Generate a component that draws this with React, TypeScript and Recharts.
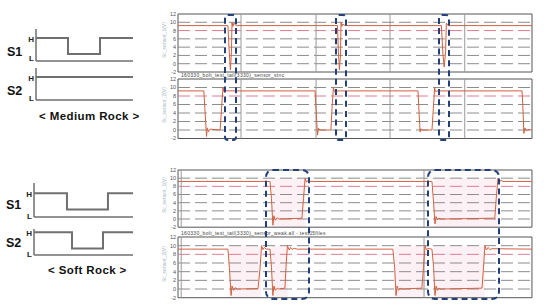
import React from "react";
import { LineChart, Line, XAxis, YAxis, ReferenceLine, ReferenceArea } from "recharts";

// schematic H/L drive patterns (time 0..10, 1 = H, 0 = L)
const MED_S1_T = [0, 3.3, 6.6, 10];
const MED_S1_V = [1, 0, 1, 1];
const MED_S2_T = [0, 10];
const MED_S2_V = [1, 1];
const SOFT_S1_T = [0, 3.33, 7.47, 10];
const SOFT_S1_V = [1, 0, 1, 1];
const SOFT_S2_T = [0, 3.84, 6.97, 10];
const SOFT_S2_V = [1, 0, 1, 1];

// scope traces (time 0..100, volts)
const P1_T = [0, 14.1, 14.4, 14.8, 15.1, 15.25, 15.5, 15.8, 16.4, 45.05, 45.3, 45.6, 45.9, 46.05, 46.3, 46.6, 47.2, 74.4, 74.86, 75.2, 75.6, 75.8, 76.3, 100];
const P1_V = [9.2, 9.2, 4, -1.5, 3, 10, 9.0, 9.8, 9.2, 9.2, 3, -1.5, 2, 10, 9.0, 9.6, 9.2, 9.2, 2, -0.8, 3, 9.8, 9.2, 9.2];

const P2_T = [0, 7.3, 7.6, 8.05, 8.3, 8.6, 9.0, 11.9, 12.3, 12.7, 13.0, 13.4, 13.8, 38.7, 39.0, 39.4, 39.7, 40.1, 43.2, 43.5, 43.9, 44.2, 44.6, 67.8, 68.1, 68.4, 68.6, 68.9, 71.75, 72.2, 72.5, 72.7, 73.2, 97.2, 97.5, 97.7, 98.0, 98.4, 98.9, 100];
const P2_V = [9.2, 9.2, 5, -1.5, 0.5, -0.4, 0.2, 0, 5, 10, 9.0, 9.5, 9.2, 9.2, 5, -1.2, 0.4, 0, 0, 5, 10, 9.0, 9.2, 9.2, 4, -0.5, 0.3, 0, 0, 6, 10, 9.0, 9.2, 9.2, 4, -0.8, 0.5, -0.2, 0.1, 0];

const P3_T = [0, 26, 26.4, 26.8, 27.1, 27.5, 28.0, 28.5, 35.0, 35.45, 35.9, 36.3, 36.7, 37.3, 71.75, 72.2, 72.6, 72.9, 73.3, 73.7, 74.3, 89.5, 89.9, 90.4, 90.8, 91.2, 91.8, 100];
const P3_V = [9.2, 9.2, 5, -1.5, 0.8, -0.3, 0.3, 0, 0.2, 5, 10, 9.0, 9.5, 9.2, 9.2, 4, -1.2, 0.6, -0.2, 0.2, 0, 0.2, 5, 10, 9.0, 9.5, 9.2, 9.2];

const P4_T = [0, 14.1, 14.5, 15.0, 15.25, 15.7, 16.1, 16.7, 22.6, 23.2, 23.6, 24.0, 24.4, 24.9, 26.0, 26.4, 26.8, 27.1, 27.5, 28.0, 28.5, 30.2, 30.5, 30.9, 31.4, 31.8, 32.2, 32.8, 33.6, 60.7, 61.2, 61.6, 61.9, 62.3, 62.7, 63.3, 68.9, 69.35, 69.8, 70.2, 70.6, 71.5, 71.75, 72.2, 72.6, 72.9, 73.3, 73.7, 74.3, 85.9, 86.3, 86.7, 87.1, 87.6, 88.1, 88.7, 100];
const P4_V = [9.2, 9.2, 5, -1.5, 0.7, -0.3, 0.3, 0, 0.1, 5, 10, 9.1, 9.6, 9.2, 9.2, 5, -1.5, 0.7, -0.3, 0.2, 0, 0.2, 5, 10, 9.0, 9.6, 9.1, 9.4, 9.2, 9.2, 5, -1.5, 0.7, -0.3, 0.2, 0, 0.2, 5, 10, 9.0, 9.4, 9.2, 9.2, 5, -1.5, 0.7, -0.3, 0.2, 0, 0.2, 5, 10, 9.0, 9.6, 9.1, 9.3, 9.2];

const Y_TICKS = [-2, 0, 2, 4, 6, 8, 10, 12];
const GRAY_LEVELS = [0, 2, 4, 6, 10];
const TOP_VLINES = [17.8, 39, 59.9, 81];
const BOT_VLINES = [0.9, 69.5];
const P3_SHADE = [[26.5, 36], [72.3, 90.5]];
const P4_SHADE = [[14.5, 23.5], [26.5, 31], [61.2, 69.8], [72.3, 86.7]];

const zip = (t: number[], v: number[]) => t.map((x, i) => ({ t: x, v: v[i] }));

const TRACE = "#d2603f";
const BOX = "#23407c";

function Schematic({ left, top, width, height, t, v, domain, hTick, lTick }: any) {
  return (
    <div style={{ position: "absolute", left: left - 14, top: top - 5 }}>
      <LineChart width={width + 14} height={height + 10} data={zip(t, v)} margin={{ top: 5, right: 0, bottom: 5, left: 0 }}>
        <XAxis type="number" dataKey="t" domain={[0, 10]} hide />
        <YAxis
          type="number"
          domain={domain}
          width={14}
          ticks={[lTick, hTick]}
          interval={0}
          tickFormatter={(x: number) => (x === hTick ? "H" : "L")}
          tick={{ fontSize: 8, fontWeight: 700, fill: "#222", fontFamily: "Liberation Sans, Arial" }}
          tickLine={false}
          tickSize={0}
          tickMargin={2}
          axisLine={{ stroke: "#6f6f6f", strokeWidth: 1.5 }}
          allowDataOverflow
        />
        <ReferenceLine y={domain[0]} stroke="#6f6f6f" strokeWidth={1.5} />
        <Line type="stepAfter" dataKey="v" stroke="#707070" strokeWidth={2} dot={false} isAnimationActive={false} />
      </LineChart>
    </div>
  );
}

function Scope({ top, plotH, t, v, vlines, shades, ylabel }: any) {
  return (
    <>
      <div style={{ position: "absolute", left: 160, top: top - 4 }}>
        <LineChart width={375} height={plotH + 8} data={zip(t, v)} margin={{ top: 4, right: 3, bottom: 4, left: 0 }}>
          <XAxis type="number" dataKey="t" domain={[0, 100]} hide />
          <YAxis
            type="number"
            domain={[-2, 12]}
            ticks={Y_TICKS}
            interval={0}
            width={18}
            tick={{ fontSize: 5.5, fill: "#555", fontFamily: "Liberation Sans, Arial" }}
            tickLine={false}
            tickSize={0}
            axisLine={false}
            tickMargin={2}
          />
          {shades.map((s: number[], i: number) => (
            <ReferenceArea key={"s" + i} x1={s[0]} x2={s[1]} y1={-2} y2={10} fill="#fbe3ec" fillOpacity={0.5} stroke="none" />
          ))}
          {GRAY_LEVELS.map((y) => (
            <ReferenceLine key={"g" + y} y={y} stroke="#8c8c8c" strokeDasharray="12 5" />
          ))}
          <ReferenceLine y={8} stroke="#e07a94" strokeDasharray="12 5" />
          {vlines.map((x: number) => (
            <ReferenceLine key={"v" + x} x={x} stroke="#9a9a9a" />
          ))}
          <ReferenceArea x1={0} x2={100} y1={-2} y2={12} fill="none" stroke="#555" strokeWidth={1} />
          <Line type="linear" dataKey="v" stroke={TRACE} strokeWidth={1} dot={false} isAnimationActive={false} />
        </LineChart>
      </div>
      <div
        style={{
          position: "absolute",
          left: 161,
          top: top + plotH / 2 - 3,
          width: 0,
          height: 0,
          fontSize: 5,
          color: "#9fb6c0",
          fontFamily: "Liberation Sans, Arial",
        }}
      >
        <div style={{ transform: "rotate(-90deg)", transformOrigin: "0 0", whiteSpace: "nowrap", position: "absolute", left: 0, top: 18 }}>
          {ylabel}
        </div>
      </div>
    </>
  );
}

const Box = ({ x, y, w, h, r }: any) => (
  <div
    style={{
      position: "absolute",
      left: x,
      top: y,
      width: w,
      height: h,
      border: `2px dashed ${BOX}`,
      borderRadius: r,
      boxSizing: "border-box",
    }}
  />
);

const txt = (x: number, y: number, s: string, size: number, extra: any = {}) => (
  <div
    style={{
      position: "absolute",
      left: x,
      top: y,
      fontSize: size,
      fontWeight: 700,
      fontFamily: "Liberation Sans, Arial",
      color: "#111",
      whiteSpace: "nowrap",
      lineHeight: 1,
      ...extra,
    }}
  >
    {s}
  </div>
);

export default function App() {
  return (
    <div style={{ position: "absolute", left: 0, top: 0, width: 550, height: 306, background: "#fff", overflow: "hidden" }}>
      <Schematic left={36} top={29} width={97} height={32} t={MED_S1_T} v={MED_S1_V} domain={[-0.44, 1.56]} hTick={0.95} lTick={-0.25} />
      <Schematic left={36} top={68} width={97} height={32} t={MED_S2_T} v={MED_S2_V} domain={[-0.44, 1.56]} hTick={0.95} lTick={-0.3} />
      <Schematic left={34} top={183} width={99} height={34} t={SOFT_S1_T} v={SOFT_S1_V} domain={[-0.46, 1.64]} hTick={0.95} lTick={-0.38} />
      <Schematic left={34} top={229} width={99} height={26} t={SOFT_S2_T} v={SOFT_S2_V} domain={[-0.4, 1.2]} hTick={0.95} lTick={-0.34} />

      {txt(7, 46, "S1", 12.5)}
      {txt(7, 85, "S2", 12.5)}
      {txt(39, 111, "< Medium Rock >", 11.5, { letterSpacing: 0.4 })}
      {txt(6, 199, "S1", 12.5)}
      {txt(6, 237, "S2", 12.5)}
      {txt(48, 265, "< Soft Rock >", 11.5, { letterSpacing: 0.4 })}

      <Scope top={14} plotH={58} t={P1_T} v={P1_V} vlines={TOP_VLINES} shades={[]} ylabel="Sc_sensor_1(V)" />
      <Scope top={78.5} plotH={59.5} t={P2_T} v={P2_V} vlines={TOP_VLINES} shades={[]} ylabel="Sc_sensor_2(V)" />
      <Scope top={169.5} plotH={57.2} t={P3_T} v={P3_V} vlines={BOT_VLINES} shades={P3_SHADE} ylabel="Sc_sensor_1(V)" />
      <Scope top={237} plotH={60.7} t={P4_T} v={P4_V} vlines={BOT_VLINES} shades={P4_SHADE} ylabel="Sc_sensor_2(V)" />

      {txt(181, 73, "160330_bolt_test_tail(3330)_sensor_stnc", 5, { fontWeight: 400, color: "#444", letterSpacing: 0.3 })}
      {txt(181, 230.5, "160330_bolt_test_tail(3330)_sensor_weak.all - test05files", 5, { fontWeight: 400, color: "#444", letterSpacing: 0.3 })}

      <Box x={224} y={14} w={13} h={127} r={4} />
      <Box x={335} y={14} w={12} h={127} r={4} />
      <Box x={438} y={14} w={12} h={127} r={4} />
      <Box x={265} y={169} w={45} h={131} r={8} />
      <Box x={427} y={169} w={73} h={131} r={8} />
    </div>
  );
}
